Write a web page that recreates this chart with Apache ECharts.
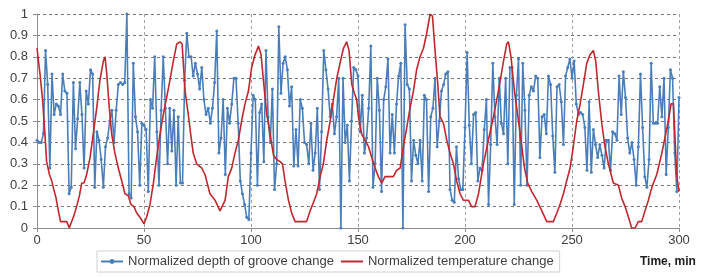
<!DOCTYPE html>
<html><head><meta charset="utf-8">
<script src="https://cdn.jsdelivr.net/npm/echarts@6/dist/echarts.min.js"></script>
<style>html,body{margin:0;padding:0;background:#fff}#c{width:702px;height:277px}</style>
</head><body><div id="c"></div>
<script>
// Normalized depth of groove change, one sample per minute (t = 0..300)
const depthValues = [
0.41,0.40,0.40,0.44,0.83,0.67,0.28,0.72,0.53,0.58,
0.57,0.53,0.72,0.64,0.63,0.16,0.19,0.68,0.37,0.51,
0.68,0.53,0.28,0.64,0.58,0.74,0.72,0.19,0.45,0.41,
0.32,0.19,0.38,0.42,0.50,0.55,0.40,0.55,0.67,0.68,
0.67,0.68,1.00,0.16,0.14,0.77,0.52,0.45,0.20,0.49,
0.48,0.46,0.17,0.60,0.56,0.80,0.45,0.20,0.55,0.80,
0.56,0.30,0.56,0.36,0.55,0.20,0.52,0.21,0.21,0.69,
0.91,0.80,0.80,0.71,0.77,0.72,0.65,0.75,0.60,0.53,
0.56,0.49,0.56,0.68,0.92,0.35,0.42,0.60,0.25,0.56,
0.49,0.58,0.70,0.70,0.49,0.22,0.16,0.11,0.05,0.04,
0.35,0.62,0.60,0.20,0.54,0.58,0.31,0.83,0.52,0.40,
0.65,0.18,0.30,0.94,0.63,0.77,0.80,0.74,0.57,0.66,
0.29,0.46,0.29,0.60,0.56,0.40,0.39,0.30,0.49,0.27,
0.35,0.56,0.18,0.45,0.83,0.74,0.65,0.52,0.58,0.44,
0.52,0.70,0.00,0.70,0.40,0.48,0.22,0.50,0.75,0.74,
0.71,0.45,0.62,0.35,0.42,0.56,0.85,0.19,0.30,0.70,
0.55,0.17,0.60,0.66,0.79,0.35,0.53,0.35,0.58,0.71,
0.77,0.00,0.95,0.67,0.65,0.22,0.41,0.34,0.30,0.41,
0.22,0.62,0.60,0.17,0.52,0.56,0.70,0.38,0.50,0.64,
0.67,0.72,0.73,0.18,0.13,0.12,0.38,0.23,0.18,0.18,
0.47,0.82,0.48,0.30,0.53,0.54,0.22,0.28,0.27,0.46,
0.60,0.11,0.39,0.77,0.52,0.39,0.70,0.49,0.44,0.70,
0.30,0.75,0.75,0.11,0.62,0.79,0.20,0.77,0.55,0.20,
0.62,0.66,0.64,0.71,0.70,0.33,0.52,0.53,0.44,0.71,
0.67,0.43,0.26,0.66,0.67,0.59,0.39,0.71,0.75,0.79,
0.70,0.78,0.58,0.53,0.54,0.53,0.47,0.27,0.59,0.26,
0.46,0.39,0.33,0.39,0.34,0.28,0.41,0.41,0.27,0.45,
0.44,0.41,0.71,0.53,0.73,0.61,0.42,0.35,0.40,0.32,
0.20,0.38,0.72,0.47,0.24,0.19,0.32,0.77,0.49,0.49,
0.49,0.66,0.52,0.70,0.25,0.47,0.74,0.70,0.35,0.17,
0.61
];
const depthTimes = depthValues.map((_, i) => i);

// Normalized temperature change
const tempTimes = [
0,1.4,2.6,3.7,4.5,5.8,6.9,7.6,8.9,10,11,12.3,13.9,15.1,16.2,17.3,18.5,19.8,20.9,22,
23.2,24.8,26.3,27.9,29.4,31,31.8,32.6,33.8,34.9,36.4,38,39.6,41.1,42.7,43.9,45.3,46.6,48.1,50,
51.2,52.8,54.4,55.9,57.5,59,60.6,62.1,63.7,65.3,66.8,67.8,69.2,70.7,71.8,73,74.6,77,78.5,80.8,
83.2,85.5,86.3,87.9,89.4,91,92.5,94.1,95.6,97.2,98.8,100.3,
101.9,103.5,104.7,105.8,107.4,108.9,110.5,112,113.6,114.7,115.9,117.5,119,120.6,122.1,124.5,126,127.6,129.2,130.7,
132.3,133.8,135.4,137,138.5,140.1,141.6,143.2,144.7,145.8,147.1,148.3,149.4,150.2,151.7,153.3,154.9,156.4,158,159.5,
161.1,162.6,164.2,166.5,168.1,169.7,171.2,172.8,174.3,175.9,177.4,179,180.6,182.1,183.7,184.8,186,187.3,188.3,189.9,
191.5,193,194.6,196.1,197.7,199.2,201.6,203.1,
204.7,206.3,208.6,210.9,213.3,215.6,218,219.5,220.3,221.5,223.1,224.6,226.2,227.8,229.3,231.2,233.5,235.9,238.2,239.7,
241.3,242.9,244.4,246,247.5,249.1,250.6,252.2,253.8,255.3,256.9,258.4,260,261.1,262.3,263.9,265.4,267,269.3,271.7,
273.2,274.8,276.4,277.9,279.5,281,282.6,284.1,285.7,287.3,289.6,292,293.8,295,296.3,297.4,298.2,298.9,300
];
const tempValues = [
0.84,0.72,0.60,0.44,0.31,0.25,0.22,0.19,0.14,0.08,0.03,0.03,0.03,0.00,0.03,0.06,0.10,0.15,0.21,0.21,
0.25,0.33,0.44,0.56,0.69,0.78,0.80,0.72,0.56,0.44,0.35,0.28,0.22,0.16,0.15,0.11,0.10,0.07,0.05,0.02,
0.05,0.11,0.21,0.33,0.44,0.53,0.61,0.69,0.78,0.86,0.87,0.86,0.64,0.53,0.44,0.35,0.30,0.28,0.25,0.16,
0.13,0.08,0.08,0.13,0.24,0.28,0.35,0.41,0.50,0.58,0.64,0.75,
0.81,0.85,0.81,0.69,0.53,0.44,0.34,0.32,0.31,0.30,0.22,0.13,0.07,0.03,0.03,0.03,0.03,0.08,0.12,0.16,
0.24,0.30,0.41,0.50,0.60,0.70,0.77,0.84,0.87,0.83,0.67,0.63,0.60,0.52,0.44,0.41,0.38,0.33,0.28,0.24,
0.21,0.24,0.24,0.24,0.27,0.28,0.38,0.47,0.56,0.64,0.74,0.80,0.84,0.91,1.00,0.99,0.83,0.67,0.52,0.49,
0.41,0.35,0.30,0.22,0.16,0.13,0.13,0.10,
0.10,0.16,0.30,0.41,0.52,0.64,0.78,0.86,0.87,0.80,0.64,0.53,0.41,0.28,0.21,0.17,0.13,0.08,0.03,0.03,
0.03,0.07,0.11,0.16,0.22,0.28,0.38,0.50,0.58,0.67,0.77,0.81,0.83,0.78,0.64,0.49,0.38,0.30,0.21,0.20,
0.14,0.10,0.05,0.00,0.00,0.03,0.03,0.08,0.13,0.19,0.25,0.35,0.44,0.50,0.58,0.58,0.41,0.25,0.17
];

const xTicks = [0, 50, 100, 150, 200, 250, 300];
const seriesNames = ['Normalized depth of groove change', 'Normalized temperature change'];
const xAxisTitle = 'Time, min';

const font = 'Liberation Sans, Arial, sans-serif';
const chart = echarts.init(document.getElementById('c'), null, {renderer: 'canvas'});
chart.setOption({
  animation: false,
  backgroundColor: '#fff',
  grid: {left: 37, right: 23, top: 14, bottom: 49, containLabel: false},
  xAxis: {
    type: 'value', min: xTicks[0], max: xTicks[xTicks.length - 1], interval: 50,
    axisLine: {lineStyle: {color: '#8c8c8c', width: 1}},
    axisTick: {show: true, length: 4, lineStyle: {color: '#8c8c8c'}},
    axisLabel: {color: '#404040', fontSize: 13, fontFamily: font, margin: 6},
    splitLine: {show: true, lineStyle: {color: '#a0a0a0', type: [3, 3], width: 1}}
  },
  yAxis: {
    type: 'value', min: 0, max: 1, interval: 0.1,
    axisLine: {show: true, lineStyle: {color: '#8c8c8c', width: 1}},
    axisTick: {show: true, length: 4, lineStyle: {color: '#8c8c8c'}},
    axisLabel: {color: '#404040', fontSize: 13, fontFamily: font, margin: 9,
      formatter: v => (v === 0 ? '0' : v === 1 ? '1' : v.toFixed(1))},
    splitLine: {show: true, lineStyle: {color: '#777', type: [3, 3], width: 1}}
  },
  legend: {
    left: 97, top: 251, padding: [4, 6, 4, 3], itemGap: 6,
    itemWidth: 22, itemHeight: 6,
    borderColor: '#d0d0d0', borderWidth: 1,
    textStyle: {color: '#404040', fontSize: 13, fontFamily: font},
    data: [
      {name: seriesNames[0]},
      {name: seriesNames[1], itemStyle: {opacity: 0}}
    ]
  },
  graphic: [{
    type: 'text', left: 640, top: 256,
    style: {text: xAxisTitle, fill: '#202020', font: 'bold 12px ' + font}
  }],
  series: [
    {
      name: seriesNames[0], type: 'line',
      data: depthValues.map((v, i) => [depthTimes[i], v]),
      color: '#4A7EBB',
      lineStyle: {width: 1.6, color: '#4A7EBB'},
      symbol: 'circle', symbolSize: 3,
      itemStyle: {color: '#4A7EBB'},
      z: 2
    },
    {
      name: seriesNames[1], type: 'line',
      data: tempValues.map((v, i) => [tempTimes[i], v]),
      color: '#C0282D',
      lineStyle: {width: 1.6, color: '#C0282D'},
      symbol: 'none', showSymbol: false,
      z: 3
    }
  ]
});
</script></body></html>
